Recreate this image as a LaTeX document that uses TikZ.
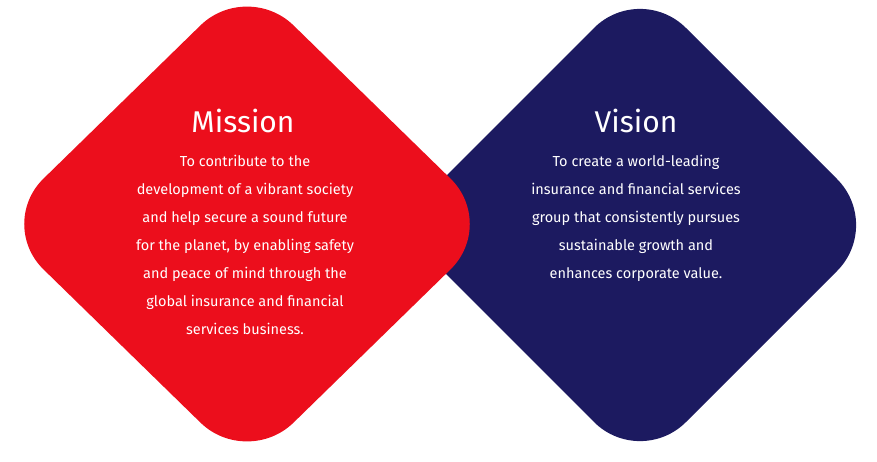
\documentclass[tikz,border=0pt]{standalone}
\usepackage{fontspec}
\setmainfont{Fira Sans}
\definecolor{mred}{HTML}{EC0E1C}
\definecolor{vblue}{HTML}{1C1A60}
\begin{document}
\begin{tikzpicture}[x=1pt,y=-1pt,
  title/.style={text=white,font=\fontsize{30}{34}\selectfont},
  body/.style={text=white,align=center,font=\fontsize{14.5}{28}\selectfont}]
\useasboundingbox (0,0) rectangle (877,461);
\fill[vblue,rounded corners=65pt] (397,225) -- (640,-18) -- (883,225) -- (640,468) -- cycle;
\fill[mred,rounded corners=65pt] (-3,224) -- (247,-20) -- (497,224) -- (247,468) -- cycle;
\node[title] (mt) at (243,121) {Mission};
\node[body,anchor=north] (mb) at (245,152) {To contribute to the\\development of a vibrant society\\and help secure a sound future\\for the planet, by enabling safety\\and peace of mind through the\\global insurance and financial\\services business.};
\node[title] (vt) at (636,121) {Vision};
\node[body,anchor=north] (vb) at (636,152) {To create a world-leading\\insurance and financial services\\group that consistently pursues\\sustainable growth and\\enhances corporate value.};
\end{tikzpicture}
\end{document}
